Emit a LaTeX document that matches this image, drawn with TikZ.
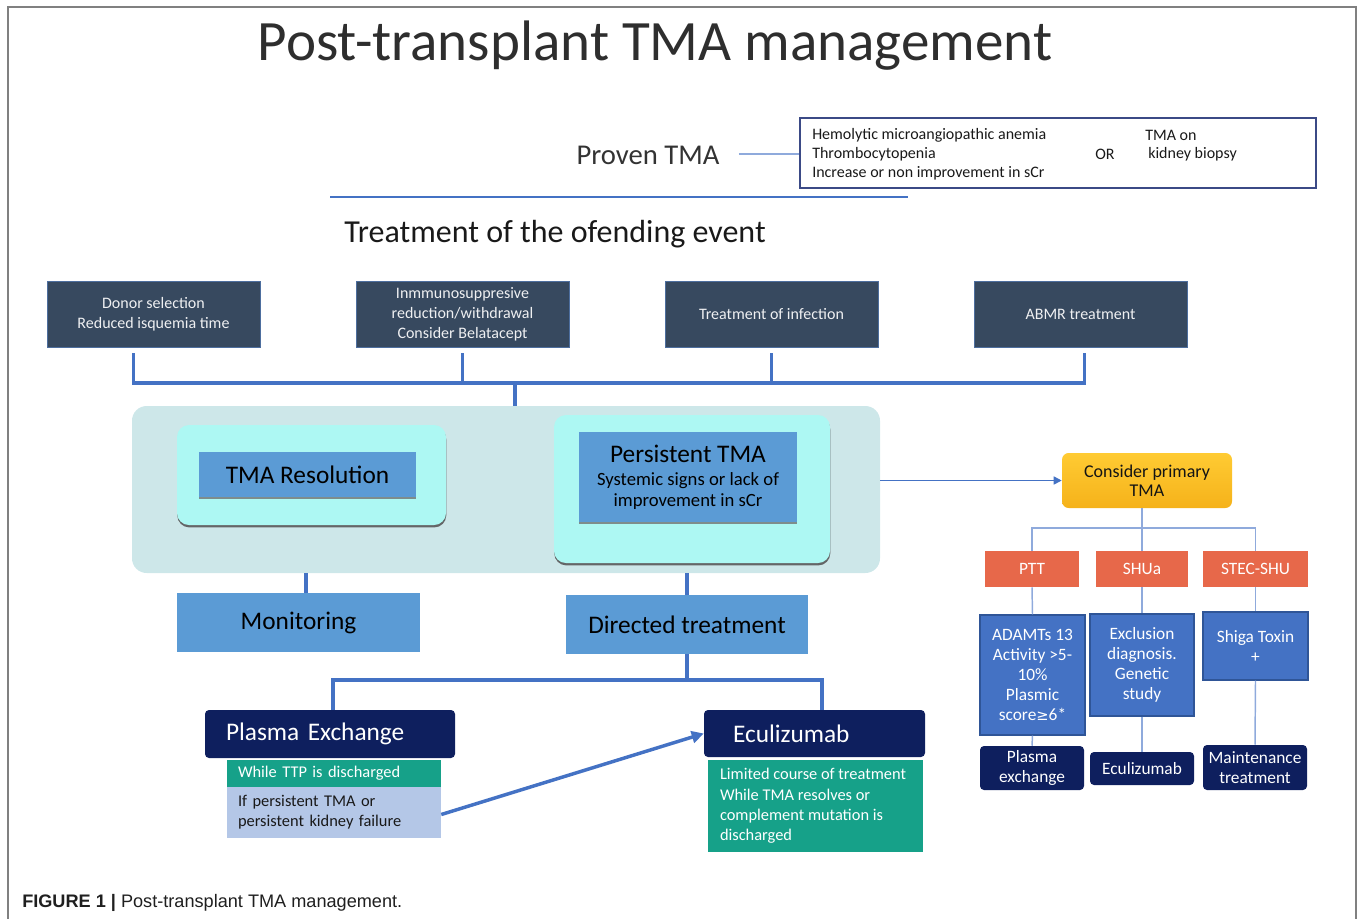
\documentclass[tikz,border=0pt]{standalone}
\usepackage{fontspec}
\setmainfont{Carlito}
\newfontfamily\capfont{Liberation Sans}
\newfontfamily\symfont{DejaVu Sans}
\usetikzlibrary{arrows.meta,shadows}

\definecolor{framegray}{HTML}{808080}
\definecolor{slate}{HTML}{37495F}
\definecolor{slateedge}{HTML}{4D6E9E}
\definecolor{linkblue}{HTML}{4472C4}
\definecolor{paleblue}{HTML}{8FAADC}
\definecolor{panelteal}{HTML}{CDE7E9}
\definecolor{aqua}{HTML}{ADF8F3}
\definecolor{midblue}{HTML}{5B9BD5}
\definecolor{navy}{HTML}{0E1F5E}
\definecolor{teal}{HTML}{16A189}
\definecolor{softblue}{HTML}{B4C7E7}
\definecolor{goldtop}{HTML}{FFCB33}
\definecolor{goldbot}{HTML}{F5B21A}
\definecolor{coral}{HTML}{E7684A}
\definecolor{boxblue}{HTML}{4472C4}
\definecolor{boxedge}{HTML}{2F5597}
\definecolor{critedge}{HTML}{3B4A86}

\newcommand{\fs}[1]{\fontsize{#1}{\fpeval{#1*1.2}}\selectfont}
\newcommand{\fsl}[2]{\fontsize{#1}{#2}\selectfont}
\newcommand{\gesym}{{\symfont\fontsize{11}{13}\selectfont ≥}}

\tikzset{
  sz/.style 2 args={minimum width=#1*0.75pt, minimum height=#2*0.75pt},
  basebox/.style={inner sep=0pt, align=center},
  actbox/.style={basebox, fill=slate, draw=slateedge, line width=0.6pt,
    text=white!92!slate, font=\fsl{12}{15}},
  outerglow/.style={basebox, fill=aqua, rounded corners=9pt,
    drop shadow={shadow xshift=0.2pt, shadow yshift=-1.8pt, fill=black!65, opacity=0.9}},
  innerbox/.style={basebox, fill=midblue,
    drop shadow={shadow xshift=0pt, shadow yshift=-1.2pt, fill=black!55, opacity=0.8}},
  stepbox/.style={basebox, fill=midblue, font=\fs{19}},
  navybox/.style={basebox, fill=navy, rounded corners=3pt, text=white},
  coralbox/.style={basebox, fill=coral, text=white, font=\fs{13}},
  bluebox/.style={basebox, fill=boxblue, draw=boxedge, line width=0.8pt,
    text=white, font=\fsl{13}{15}},
  bus/.style={draw=linkblue, line width=2.3pt},
  thinlink/.style={draw=paleblue, line width=1.1pt},
  bigarrow/.style={draw=linkblue, line width=2.6pt,
    -{Triangle[length=9pt,width=9pt]}},
  sidearrow/.style={draw=linkblue, line width=1.1pt,
    -{Triangle[length=6pt,width=6pt]}}
}

\begin{document}
\begin{tikzpicture}[x=0.75pt,y=-0.75pt]
\useasboundingbox (0,0) rectangle (1360,918);

% outer frame of the figure
\draw[framegray, line width=1.1pt] (8,7) rectangle (1356,940);

% heading
\node[font=\fs{42.8}, text=black!82] (title) at (655,46) {Post-transplant TMA management};

% diagnosis
\node[font=\fs{21.5}, text=black!80] (proven) at (648,155) {Proven TMA};
\node[basebox, draw=critedge, line width=0.8pt, sz={516}{70}] (crit) at (1058,153) {};
\begin{scope}[font=\fs{12}, text=black!90]
  \node[anchor=west, inner sep=0pt] (c1) at (812,135) {Hemolytic microangiopathic anemia};
  \node[anchor=west, inner sep=0pt] (c2) at (812,154) {Thrombocytopenia};
  \node[anchor=west, inner sep=0pt] (c3) at (812,173) {Increase or non improvement in sCr};
  \node[inner sep=0pt] (or) at (1105,154) {OR};
  \node[anchor=west, inner sep=0pt] (b1) at (1145,135) {TMA on};
  \node[anchor=west, inner sep=0pt] (b2) at (1148,154) {kidney biopsy};
\end{scope}
\draw[thinlink] ([xshift=11pt]proven.east |- c2) -- (crit.west |- c2);

\coordinate (ruleL) at (330,197);
\coordinate (ruleR) at (908,197);
\draw[linkblue, line width=1.1pt] (ruleL) -- (ruleR);

\node[font=\fs{24}, text=black!90] (event) at (555,234) {Treatment of the ofending event};

% actions on the offending event
\node[actbox, sz={213}{66}] (d1) at (153.5,314) {Donor selection\\Reduced isquemia time};
\node[actbox, sz={213}{66}] (d2) at (462.5,314) {Inmmunosuppresive\\reduction/withdrawal\\Consider Belatacept};
\node[actbox, sz={213}{66}] (d3) at (771.5,314) {Treatment of infection};
\node[actbox, sz={213}{66}] (d4) at (1080.5,314) {ABMR treatment};

\coordinate (bus) at (515,383);
\draw[bus] ([shift={(-20,6)}]d1.south) |- (bus) -| ([shift={(4,6)}]d4.south);
\draw[bus] ([yshift=-4.5pt]d2.south) -- (d2.south |- bus);
\draw[bus] ([yshift=-4.5pt]d3.south) -- (d3.south |- bus);

% outcome panel
\node[basebox, fill=panelteal, rounded corners=11pt, sz={748}{167}] (panel) at (506,489.5) {};
\draw[bus] (bus) -- (bus |- panel.north);

\node[outerglow, sz={269}{100}] (resout) at (311.5,475) {};
\node[innerbox, sz={217}{45}, font=\fs{19}] (res) at (307.5,474.5) {TMA Resolution};
\node[outerglow, sz={276}{148}] (persout) at (692,489) {};
\node[innerbox, sz={218}{90}, font=\fsl{14}{15.5}] (pers) at (688,477)
  {{\fs{19}Persistent TMA}\\[2pt]Systemic signs or lack of\\improvement in sCr};

\node[stepbox, sz={243}{59}] (mon) at (298.5,622.5) {Monitoring};
\node[stepbox, sz={242}{59}] (dir) at (687,624.5) {Directed treatment};
\draw[bus] ([xshift=5.6pt]mon.north) -- ([xshift=5.6pt]mon.north |- panel.south);
\draw[bus] (dir.north) -- (dir.north |- panel.south);

% directed treatment options
\node[navybox, sz={250}{48}, inner xsep=15.75pt, text width=156pt, align=left, font=\fs{19}]
  (pe) at (330,734) {Plasma Exchange};
\node[navybox, sz={221}{47}, inner xsep=21.75pt, text width=122.25pt, align=left, font=\fs{19}]
  (ecu) at (814.5,733.5) {Eculizumab};
\coordinate (split) at (687,680);
\draw[bus] (dir.south) -- (split);
\draw[bus] ([xshift=2.25pt]pe.north) |- (split) -| ([xshift=5.6pt]ecu.north);

\node[basebox, fill=teal, text=white, sz={214}{27}, inner xsep=8.25pt, text width=144pt,
  align=left, font=\fs{12.3}] (ttp) at (334,773.5) {While TTP is discharged};
\node[basebox, fill=softblue, text=black!90, sz={214}{51}, inner xsep=8.25pt, text width=144pt,
  align=left, font=\fsl{12.3}{15.2}] (persfail) at (334,812.5) {If persistent TMA or\\persistent kidney failure};
\node[basebox, fill=teal, sz={215}{92}] (lim) at (815.5,806) {};
\node[anchor=west, inner sep=0pt, align=left, text=white, font=\fsl{12.3}{15.2}]
  (limtext) at ([xshift=9pt]lim.west)
  {Limited course of treatment\\While TMA resolves or\\complement mutation is\\discharged};
\draw[bigarrow] ([yshift=-1.5pt]persfail.east) -- (ecu.west);

% primary TMA branch
\node[basebox, top color=goldtop, bottom color=goldbot, rounded corners=5pt, sz={170}{55},
  font=\fsl{13.5}{14.5}, text=black!92] (cpt) at (1147,480.5) {Consider primary\\TMA};
\draw[sidearrow] (panel.east |- cpt) -- (cpt.west);

\node[coralbox, sz={94}{36}] (ptt) at (1032,569) {PTT};
\node[coralbox, sz={92}{36}] (shua) at (1142,569) {SHUa};
\node[coralbox, sz={105}{36}] (stec) at (1255.5,569) {STEC-SHU};
\coordinate (tj) at (1142,528);
\draw[thinlink] (shua.north) -- (shua.north |- cpt.south);
\draw[thinlink] (ptt.north) |- (tj) -| (stec.north);

\node[bluebox, sz={105}{120}] (ada) at (1032.5,675)
  {ADAMTs 13\\Activity >5-\\10\%\\Plasmic\\score\gesym 6*};
\node[bluebox, sz={104}{102}] (excl) at (1142,665)
  {Exclusion\\diagnosis.\\Genetic\\study};
\node[bluebox, sz={105}{68}] (shiga) at (1255.5,646) {Shiga Toxin\\+};
\draw[thinlink] (ptt.south) -- (ada.north);
\draw[thinlink] (shua.south) -- (excl.north);
\draw[thinlink] (stec.south) -- (shiga.north);

\node[navybox, sz={104}{44}, font=\fsl{13}{15}] (pex) at (1032,768) {Plasma\\exchange};
\node[navybox, sz={104}{33}, font=\fs{13}] (ecu2) at (1142,768.5) {Eculizumab};
\node[navybox, sz={104}{45}, font=\fsl{13}{15}] (maint) at (1255,767.5) {Maintenance\\treatment};
\draw[thinlink] (ada.south) -- (pex.north);
\draw[thinlink] (excl.south) -- (ecu2.north);
\draw[thinlink] (shiga.south) -- (maint.north);

% caption
\node[anchor=west, inner sep=0pt, font=\capfont\fontsize{13.6}{16}\selectfont, text=black!88]
  (caption) at (22,903) {\textbf{FIGURE 1 |} Post-transplant TMA management.};
\end{tikzpicture}
\end{document}
